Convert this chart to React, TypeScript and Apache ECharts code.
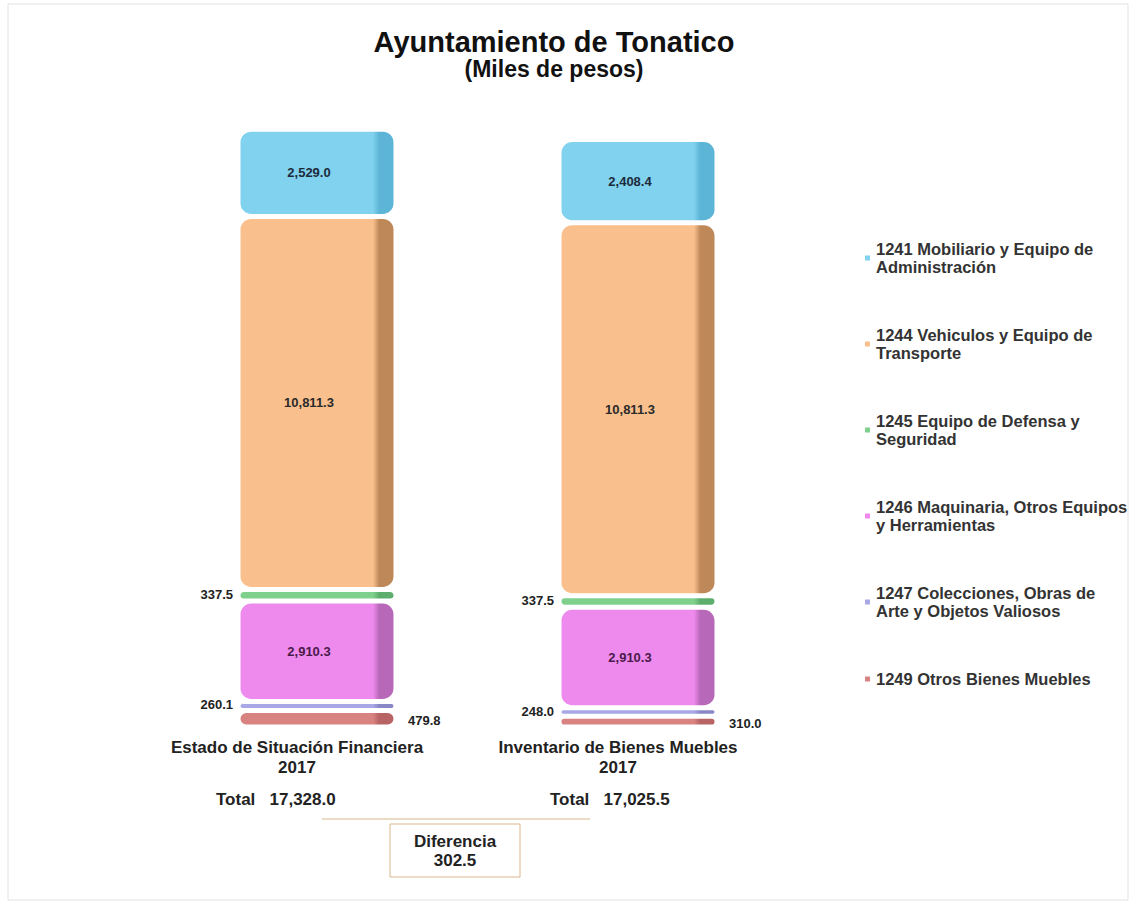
import React, { useEffect, useRef } from "react";
import * as echarts from "echarts";

const categories = ["Estado de Situación Financiera\n2017", "Inventario de Bienes Muebles\n2017"];
const seriesNames = [
  "1241 Mobiliario y Equipo de\nAdministración",
  "1244 Vehiculos y Equipo de\nTransporte",
  "1245 Equipo de Defensa y\nSeguridad",
  "1246 Maquinaria, Otros Equipos\ny Herramientas",
  "1247 Colecciones, Obras de\nArte y Objetos Valiosos",
  "1249 Otros Bienes Muebles",
];
const v1241 = [2529.0, 2408.4];
const v1244 = [10811.3, 10811.3];
const v1245 = [337.5, 337.5];
const v1246 = [2910.3, 2910.3];
const v1247 = [260.1, 248.0];
const v1249 = [479.8, 310.0];

const fmt = (v: number) =>
  v.toLocaleString("en-US", { minimumFractionDigits: 1, maximumFractionDigits: 1 });

const FONT = "'Liberation Sans', Arial, sans-serif";

function face(front: string, side: string) {
  return new echarts.graphic.LinearGradient(0, 0, 1, 0, [
    { offset: 0, color: front },
    { offset: 0.86, color: front },
    { offset: 0.9, color: side },
    { offset: 1, color: side },
  ]);
}

export default function App() {
  const ref = useRef<HTMLDivElement>(null);
  useEffect(() => {
    if (!ref.current) return;
    const chart = echarts.init(ref.current, undefined, { renderer: "svg" });
    const total = [0, 1].map(
      (i) => v1241[i] + v1244[i] + v1245[i] + v1246[i] + v1247[i] + v1249[i]
    );
    const diff = total[0] - total[1];

    const mk = (
      name: string,
      data: number[],
      front: string,
      side: string,
      labelKind: "inside" | "left" | "right",
      labelColor: string,
      radius: number
    ) => ({
      name,
      type: "bar",
      stack: "s",
      barWidth: 158,
      data,
      itemStyle: {
        color: face(front, side),
        borderColor: "#ffffff",
        borderWidth: 2.5,
        borderRadius: radius,
      },
      label: {
        show: true,
        position: labelKind,
        distance: labelKind === "right" ? 12 : 5,
        offset: labelKind === "inside" ? [-8, 0] : labelKind === "right" ? [0, 2] : [0, -1],
        formatter: (p: any) => fmt(p.value),
        color: labelColor,
        fontWeight: "bold",
        fontSize: 13,
        fontFamily: FONT,
      },
    });

    const txt = {
      fontSize: 17,
      fontWeight: "bold",
      fill: "#222",
      fontFamily: FONT,
    };

    chart.setOption({
      animation: false,
      backgroundColor: "#ffffff",
      title: {
        text: "Ayuntamiento de Tonatico",
        subtext: "(Miles de pesos)",
        left: 549,
        textAlign: "center",
        top: 22,
        itemGap: 1,
        textStyle: { fontSize: 29, fontWeight: "bold", color: "#111", fontFamily: FONT },
        subtextStyle: { fontSize: 23, fontWeight: "bold", color: "#111", fontFamily: FONT },
      },
      legend: {
        orient: "vertical",
        left: 858,
        top: 235,
        itemGap: 50,
        itemWidth: 7,
        itemHeight: 7,
        icon: "rect",
        data: seriesNames,
        selectedMode: false,
        textStyle: {
          fontSize: 16.5,
          fontWeight: "bold",
          color: "#333",
          lineHeight: 18,
          fontFamily: FONT,
        },
      },
      grid: { left: 156.5, right: 336.5, top: 37, bottom: 178 },
      xAxis: {
        type: "category",
        data: categories,
        axisLine: { show: false },
        axisTick: { show: false },
        axisLabel: {
          interval: 0,
          hideOverlap: false,
          margin: 10,
          fontSize: 17,
          fontWeight: "bold",
          color: "#222",
          lineHeight: 20,
          padding: [0, 40, 0, 0],
          fontFamily: FONT,
        },
      },
      yAxis: { type: "value", min: 0, max: 20000, show: false, splitLine: { show: false } },
      series: [
        mk(seriesNames[5], v1249, "#D98282", "#B86464", "right", "#222", 8),
        mk(seriesNames[4], v1247, "#A8A8E6", "#8888C8", "left", "#222", 6),
        mk(seriesNames[3], v1246, "#EE8AEE", "#B868B8", "inside", "#4A1A4A", 12),
        mk(seriesNames[2], v1245, "#7ED08C", "#5DAE6C", "left", "#222", 6),
        mk(seriesNames[1], v1244, "#F9C08E", "#BE8858", "inside", "#2A2A2A", 12),
        mk(seriesNames[0], v1241, "#80D2EE", "#5CB4D6", "inside", "#1C2B3C", 12),
      ],
      graphic: [
        {
          type: "rect",
          shape: { x: 8, y: 4, width: 1120, height: 896 },
          style: { fill: "none", stroke: "#e2e2e2", lineWidth: 1 },
          silent: true,
        },
        {
          type: "text",
          left: 216,
          top: 791,
          style: { ...txt, text: "Total   " + fmt(total[0]) },
        },
        {
          type: "text",
          left: 550,
          top: 791,
          style: { ...txt, text: "Total   " + fmt(total[1]) },
        },
        {
          type: "line",
          shape: { x1: 322, y1: 819, x2: 590, y2: 819 },
          style: { stroke: "#D8B88A", lineWidth: 1.2 },
        },
        {
          type: "rect",
          shape: { x: 390, y: 824, width: 130, height: 53 },
          style: { fill: "#ffffff", stroke: "#D8B88A", lineWidth: 1 },
        },
        {
          type: "text",
          x: 455,
          y: 851,
          style: {
            ...txt,
            text: "Diferencia\n" + fmt(diff),
            align: "center",
            verticalAlign: "middle",
            lineHeight: 19,
          },
        },
      ],
    });
    return () => chart.dispose();
  }, []);
  return (
    <div
      ref={ref}
      style={{ position: "fixed", left: 0, top: 0, width: 1135, height: 905 }}
    />
  );
}
